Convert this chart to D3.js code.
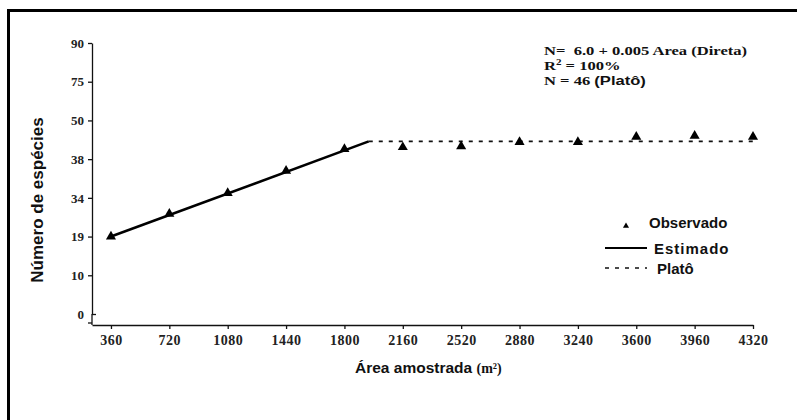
<!DOCTYPE html>
<html>
<head>
<meta charset="utf-8">
<script src="https://cdn.jsdelivr.net/npm/d3@7"></script>
<style>
  body { margin: 0; background: #fff; }
  .tick text { font-family: "Liberation Serif", "Times New Roman", serif; font-weight: bold; font-size: 13px; fill: #222; }
  .axis path, .axis line { stroke: #111; stroke-width: 1.3; }
</style>
</head>
<body>
<div id="chart"></div>
<script>
// data
var areas = [360, 720, 1080, 1440, 1800, 2160, 2520, 2880, 3240, 3600, 3960, 4320];
var observed = [19, 27.8, 34.5, 36.8, 41.1, 41.7, 42.0, 43.3, 43.3, 44.9, 45.2, 44.9];
var estX = [360, 1950];
var estY = [19, 43.5];
var platX = [1950, 4320];
var platY = [43.5, 43.5];
var yTicks = [0, 10, 19, 34, 38, 50, 75, 90];

var width = 797, height = 420;

var svg = d3.select("#chart").append("svg")
  .attr("width", width)
  .attr("height", height);

// frame (cut on right and bottom like the source)
svg.append("rect")
  .attr("x", 8.5).attr("y", 10.5)
  .attr("width", 820).attr("height", 440)
  .attr("fill", "none")
  .attr("stroke", "#000")
  .attr("stroke-width", 3);

var xScale = d3.scaleLinear()
  .domain([243, 4320])
  .range([92, 753]);

// the source axis is evenly spaced with uneven labels
var step = d3.scaleLinear().domain([0, yTicks.length - 1]).range([314, 43]);
var yScale = d3.scaleLinear()
  .domain(yTicks)
  .range(yTicks.map(function(d, i) { return step(i); }));

var axisY = 325;

// x axis
var xAxis = svg.append("g")
  .classed("axis", true)
  .attr("transform", "translate(0," + axisY + ")")
  .call(d3.axisBottom(xScale).tickValues(areas).tickSize(4).tickSizeOuter(0).tickPadding(6).tickFormat(d3.format("d")));
xAxis.selectAll("text").style("font-size", "14px").attr("letter-spacing", "0.5px");

// y axis
var yAxis = svg.append("g")
  .classed("axis", true)
  .attr("transform", "translate(92,0)")
  .call(d3.axisLeft(yScale).tickValues(yTicks).tickSize(4).tickSizeOuter(0).tickPadding(4));
yAxis.selectAll(".tick line").attr("x2", function(d) { return d === 0 ? 4 : -4; });

// y axis extends down to the x axis, with one extra tick
yAxis.append("line")
  .attr("x1", 0).attr("x2", 0)
  .attr("y1", yScale(0)).attr("y2", axisY)
  .attr("stroke", "#111").attr("stroke-width", 1.3);
yAxis.append("line")
  .attr("x1", -4).attr("x2", 0)
  .attr("y1", axisY - 2).attr("y2", axisY - 2)
  .attr("stroke", "#111").attr("stroke-width", 1.3);

var line = d3.line()
  .x(function(d) { return xScale(d[0]); })
  .y(function(d) { return yScale(d[1]); });

// plateau
svg.append("path")
  .datum(d3.zip(platX, platY))
  .attr("d", line)
  .attr("fill", "none")
  .attr("stroke", "#111")
  .attr("stroke-width", 1.6)
  .style("stroke-dasharray", "4, 6");

// estimated
svg.append("path")
  .datum(d3.zip(estX, estY))
  .attr("d", line)
  .attr("fill", "none")
  .attr("stroke", "#000")
  .attr("stroke-width", 2.6);

var tri = d3.symbol().type(d3.symbolTriangle).size(44);

svg.selectAll(".obs")
  .data(d3.zip(areas, observed))
  .enter()
  .append("path")
  .attr("class", "obs")
  .attr("d", tri)
  .attr("transform", function(d) { return "translate(" + xScale(d[0]) + "," + yScale(d[1]) + ")"; })
  .attr("fill", "#000");

// axis titles
svg.append("text")
  .attr("transform", "translate(43,200) rotate(-90)")
  .attr("text-anchor", "middle")
  .style("font-family", "Liberation Sans, Arial, sans-serif")
  .style("font-weight", "bold")
  .style("font-size", "17px")
  .attr("fill", "#111")
  .text("Número de espécies");

var xl = svg.append("text")
  .attr("x", 355).attr("y", 373)
  .style("font-family", "Liberation Sans, Arial, sans-serif")
  .style("font-weight", "bold")
  .style("font-size", "15.5px")
  .attr("fill", "#111");
xl.append("tspan").text("Área amostrada ");
xl.append("tspan")
  .style("font-family", "Liberation Serif, serif")
  .style("font-size", "14px")
  .text("(m²)");

// equation box, stretched sideways like the source
var eq = svg.append("g")
  .attr("transform", "translate(544,0) scale(1.38,1)")
  .style("font-family", "Liberation Serif, serif")
  .style("font-weight", "bold")
  .style("font-size", "12px")
  .attr("fill", "#111");
eq.append("text").attr("x", 0).attr("y", 55).attr("xml:space", "preserve").text("N=  6.0 + 0.005 Area (Direta)");
var r2 = eq.append("text").attr("x", 0).attr("y", 70);
r2.append("tspan").text("R");
r2.append("tspan").attr("dy", -5).style("font-size", "8px").text("2");
r2.append("tspan").attr("dy", 5).text(" = 100%");
var n2 = eq.append("text").attr("x", 0).attr("y", 85);
n2.append("tspan").text("N = 46 ");
n2.append("tspan").style("font-family", "Liberation Sans, Arial, sans-serif").text("(Platô)");

// legend
var leg = svg.append("g")
  .style("font-family", "Liberation Sans, Arial, sans-serif")
  .style("font-weight", "bold")
  .style("font-size", "15px")
  .attr("fill", "#111");
leg.append("path")
  .attr("d", d3.symbol().type(d3.symbolTriangle).size(16))
  .attr("transform", "translate(626,226)")
  .attr("fill", "#000");
leg.append("text").attr("x", 649).attr("y", 228).text("Observado");
leg.append("line")
  .attr("x1", 605).attr("x2", 647).attr("y1", 248).attr("y2", 248)
  .attr("stroke", "#000").attr("stroke-width", 2);
leg.append("text").attr("x", 654).attr("y", 254).attr("letter-spacing", "1px").text("Estimado");
leg.append("line")
  .attr("x1", 605).attr("x2", 647).attr("y1", 268).attr("y2", 268)
  .attr("stroke", "#111").attr("stroke-width", 1.5)
  .style("stroke-dasharray", "4, 6");
leg.append("text").attr("x", 657).attr("y", 274).text("Platô");
</script>
</body>
</html>
